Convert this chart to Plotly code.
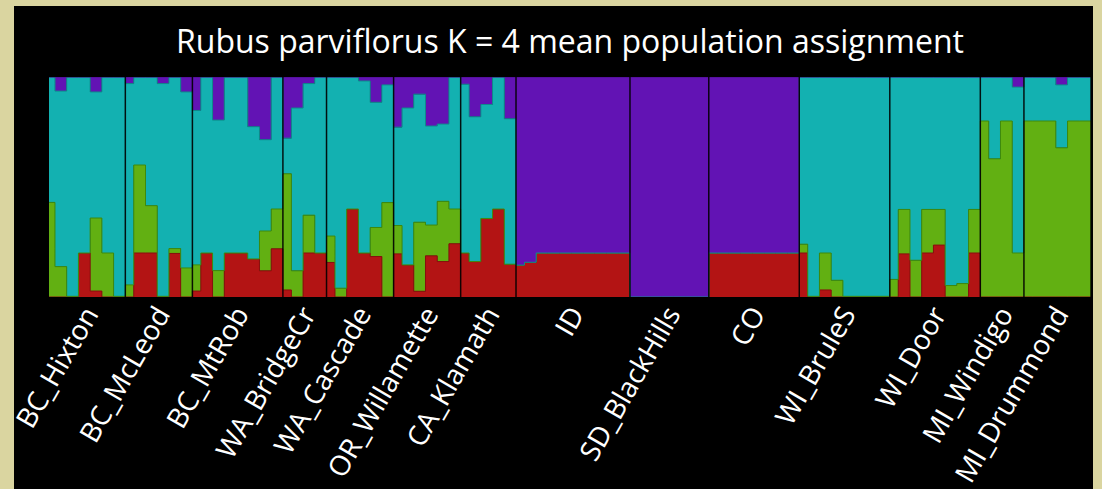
import plotly.graph_objects as go

# ---------------- data ----------------
groups = ["BC_Hixton", "BC_McLeod", "BC_MtRob", "WA_BridgeCr", "WA_Cascade",
          "OR_Willamette", "CA_Klamath", "ID", "SD_BlackHills", "CO",
          "WI_BruleS", "WI_Door", "MI_Windigo", "MI_Drummond"]
counts = [7, 6, 8, 4, 6, 6, 5, 10, 7, 8, 8, 8, 4, 6]

# cluster proportions per individual (order: red, green, teal, purple)
red = [0, 0, 0, 0.20, 0.027, 0, 0,
       0, 0.20, 0.20, 0, 0.198, 0,
       0.027, 0.20, 0, 0.20, 0.20, 0.173, 0.119, 0.219,
       0.032, 0, 0.20, 0.20,
       0.157, 0, 0.40, 0.20, 0.184, 0,
       0.196, 0.146, 0.026, 0.187, 0.161, 0.242,
       0.20, 0.161, 0.357, 0.40, 0.149,
       0.145, 0.158, 0.20, 0.20, 0.20, 0.20, 0.20, 0.20, 0.20, 0.20,
       0, 0, 0, 0, 0, 0, 0,
       0.20, 0.20, 0.20, 0.20, 0.20, 0.20, 0.20, 0.20,
       0.20, 0, 0.032, 0, 0, 0, 0, 0,
       0, 0.196, 0, 0.20, 0.236, 0, 0, 0.20,
       0, 0, 0, 0,
       0, 0, 0, 0, 0, 0]
green = [0.43, 0.138, 0.003, 0, 0.332, 0.20, 0.003,
         0.055, 0.40, 0.215, 0.003, 0.022, 0.132,
         0.119, 0, 0.12, 0, 0, 0, 0.181, 0.181,
         0.528, 0.119, 0.172, 0,
         0.12, 0.04, 0, 0, 0.132, 0.429,
         0.129, 0, 0.314, 0.14, 0.274, 0.158,
         0, 0, 0, 0, 0,
         0, 0, 0, 0, 0, 0, 0, 0, 0, 0,
         0, 0, 0, 0, 0, 0, 0,
         0, 0, 0, 0, 0, 0, 0, 0,
         0.04, 0.003, 0.168, 0.076, 0.003, 0.003, 0.003, 0.003,
         0.08, 0.202, 0.167, 0.198, 0.162, 0.052, 0.061, 0.198,
         0.80, 0.628, 0.80, 0.20,
         0.80, 0.80, 0.80, 0.678, 0.80, 0.80]
teal = [0.57, 0.798, 0.997, 0.80, 0.573, 0.80, 0.997,
        0.915, 0.40, 0.585, 0.967, 0.78, 0.80,
        0.702, 0.80, 0.684, 0.80, 0.80, 0.601, 0.415, 0.60,
        0.162, 0.74, 0.598, 0.80,
        0.723, 0.96, 0.60, 0.782, 0.569, 0.535,
        0.447, 0.713, 0.582, 0.45, 0.351, 0.60,
        0.767, 0.658, 0.518, 0.60, 0.661,
        0, 0, 0, 0, 0, 0, 0, 0, 0, 0,
        0, 0, 0, 0, 0, 0, 0,
        0, 0, 0, 0, 0, 0, 0, 0,
        0.76, 0.997, 0.80, 0.924, 0.997, 0.997, 0.997, 0.997,
        0.92, 0.602, 0.833, 0.602, 0.602, 0.948, 0.939, 0.602,
        0.20, 0.372, 0.20, 0.754,
        0.20, 0.20, 0.20, 0.286, 0.20, 0.20]
purple = [0, 0.064, 0, 0, 0.068, 0, 0,
          0.03, 0, 0, 0.03, 0, 0.068,
          0.152, 0, 0.196, 0, 0, 0.226, 0.285, 0,
          0.278, 0.141, 0.03, 0,
          0, 0, 0, 0.018, 0.115, 0.036,
          0.228, 0.141, 0.078, 0.223, 0.214, 0,
          0.033, 0.181, 0.125, 0, 0.19,
          0.855, 0.842, 0.80, 0.80, 0.80, 0.80, 0.80, 0.80, 0.80, 0.80,
          1, 1, 1, 1, 1, 1, 1,
          0.80, 0.80, 0.80, 0.80, 0.80, 0.80, 0.80, 0.80,
          0, 0, 0, 0, 0, 0, 0, 0,
          0, 0, 0, 0, 0, 0, 0, 0,
          0, 0, 0, 0.046,
          0, 0, 0, 0.036, 0, 0]

# ---------------- layout of individuals along x ----------------
first_w = 0.72      # visible width of first individual in each population
start_w = 0.51      # visible width of very first individual (clipped)
edges = []
group_starts = []
x = 0.0
for gi, n in enumerate(counts):
    group_starts.append(x)
    for k in range(n):
        edges.append(x)
        if k == 0:
            x += start_w if gi == 0 else first_w
        else:
            x += 1.0
total = x
group_ends = group_starts[1:] + [total]
centers = [(a + b) / 2 for a, b in zip(group_starts, group_ends)]
xs = edges + [total]

layers = [
    ("red", red, "#B31414", "#8A0E0E"),
    ("green", green, "#62B012", "#3F8A0C"),
    ("teal", teal, "#13B1B1", "#0E8C8C"),
    ("purple", purple, "#6213B4", "#4A0E8A"),
]

fig = go.Figure()
for name, vals, fillc, linec in layers:
    ys = list(vals) + [vals[-1]]
    fig.add_trace(go.Scatter(
        x=xs, y=ys, name=name, mode="lines", stackgroup="q",
        line=dict(shape="hv", color=linec, width=1),
        fillcolor=fillc, hoverinfo="skip", showlegend=False))

W, H = 1102, 489
L, R, T, B = 49, 11, 77, 192
pw, ph = W - L - R, H - T - B


def px_x(p):
    return (p - L) / pw


def px_y(p):
    return (H - B - p) / ph


shapes = [dict(type="rect", xref="paper", yref="paper",
               x0=px_x(14), x1=px_x(1093), y0=px_y(495), y1=px_y(6),
               fillcolor="black", line=dict(width=0), layer="below")]
for s in group_starts[1:] + [total]:
    shapes.append(dict(type="line", xref="x", yref="paper", x0=s, x1=s,
                       y0=0, y1=1, line=dict(color="rgba(0,0,0,0.9)", width=1.5)))

FONT = "Open Sans, Lato, sans-serif"
fig.update_layout(
    width=W, height=H,
    margin=dict(l=L, r=R, t=T, b=B, autoexpand=False),
    paper_bgcolor="#DAD5A0",
    plot_bgcolor="black",
    shapes=shapes,
    title=dict(text="Rubus parviflorus K = 4 mean population assignment",
               x=0.5, xref="paper", y=1 - 42 / H, yref="container",
               xanchor="center", yanchor="middle",
               font=dict(family=FONT, size=32, color="white")),
    xaxis=dict(range=[0, total], tickvals=centers, ticktext=groups,
               tickangle=-60, showgrid=False, zeroline=False, showline=False,
               automargin=False, ticklabelstandoff=-5,
               ticks="", tickfont=dict(family=FONT, size=28, color="white")),
    yaxis=dict(range=[0, 1], visible=False, showgrid=False, zeroline=False,
               automargin=False),
)

fig.write_html(
    "out.html",
    config={"displayModeBar": False},
    post_script="document.body.style.margin='0';"
                "document.body.style.overflow='hidden';"
                "document.body.style.background='#DAD5A0';",
)
